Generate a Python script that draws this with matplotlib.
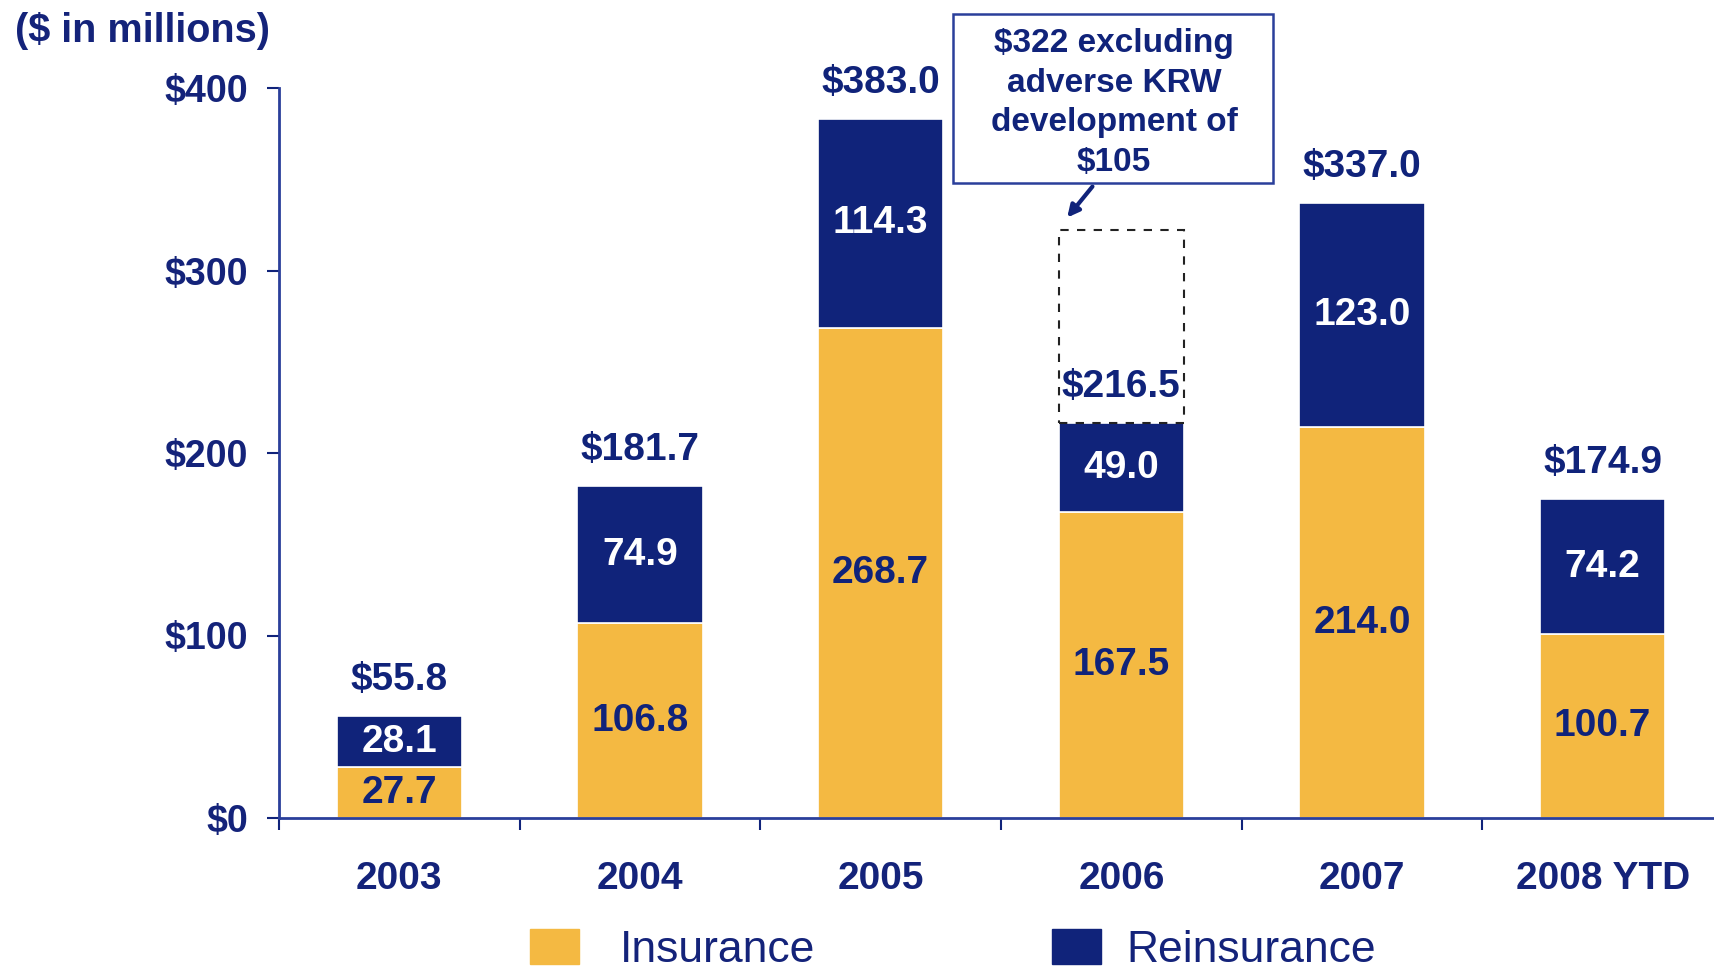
import matplotlib
matplotlib.use("Agg")
import matplotlib.pyplot as plt
from matplotlib.patches import Rectangle

categories = ["2003", "2004", "2005", "2006", "2007", "2008 YTD"]
insurance = [27.7, 106.8, 268.7, 167.5, 214.0, 100.7]
reinsurance = [28.1, 74.9, 114.3, 49.0, 123.0, 74.2]
totals = [55.8, 181.7, 383.0, 216.5, 337.0, 174.9]
y_ticks = [0, 100, 200, 300, 400]
y_tick_labels = ["$0", "$100", "$200", "$300", "$400"]
note_text = "$322 excluding\nadverse KRW\ndevelopment of\n$105"
note_value = 322.0
note_index = 3

NAVY = "#10237A"
GOLD = "#F4B942"
TEXT = "#14237A"

plt.rcParams['font.family'] = ['Liberation Sans', 'DejaVu Sans']

W, H = 1714, 969
fig = plt.figure(figsize=(W / 100, H / 100), dpi=100)
ax = fig.add_axes([279 / W, 1 - 818 / H, (1723 - 279) / W, (818 - 88) / H])

x = list(range(len(categories)))
bw = 0.52
ax.bar(x, insurance, width=bw, color=GOLD, edgecolor="white", linewidth=1.2, zorder=2)
ax.bar(x, reinsurance, width=bw, bottom=insurance, color=NAVY, edgecolor="white",
       linewidth=1.2, zorder=2)

for i in x:
    ax.text(i, insurance[i] / 2, f"{insurance[i]:.1f}", ha="center", va="center",
            color=NAVY, fontsize=28, fontweight="bold", zorder=3)
    ax.text(i, insurance[i] + reinsurance[i] / 2, f"{reinsurance[i]:.1f}", ha="center",
            va="center", color="white", fontsize=28, fontweight="bold", zorder=3)
    ax.annotate(f"${totals[i]:.1f}", (i, totals[i]), xytext=(0, 26),
                textcoords="offset points", ha="center", va="center",
                color=NAVY, fontsize=28, fontweight="bold", zorder=4)

# dashed box for 2006 excluding adverse development
ax.add_patch(Rectangle((note_index - bw / 2, totals[note_index]), bw,
                       note_value - totals[note_index], fill=False,
                       edgecolor="#222222", linestyle=(0, (4, 4)), linewidth=1.5,
                       zorder=3, clip_on=False))

# note box (drawn in pixel-based figure coordinates)
fig.patches.append(Rectangle((953 / W, 1 - 183 / H), (1273 - 953) / W, (183 - 14) / H,
                             facecolor="white", edgecolor="#2A3F9A", linewidth=1.8,
                             transform=fig.transFigure, figure=fig))
fig.text(1114 / W, 1 - 103 / H, note_text, ha="center", va="center", color=NAVY,
         fontsize=24, fontweight="bold", linespacing=1.36)

ax.annotate("", xy=(2.775, 329), xytext=(2.88, 346),
            arrowprops=dict(arrowstyle="-|>,head_length=0.7,head_width=0.35",
                            color=NAVY, linewidth=3, shrinkA=0, shrinkB=0),
            annotation_clip=False)

ax.set_xlim(-0.5, 5.5)
ax.set_ylim(0, 400)
ax.set_yticks(y_ticks)
ax.set_yticklabels(y_tick_labels)
ax.set_xticks(x)
ax.set_xticklabels(categories)
ax.set_xticks([i - 0.5 for i in range(len(categories) + 1)], minor=True)

ax.tick_params(axis="x", which="major", length=0, pad=31, labelsize=28,
               labelcolor=TEXT)
ax.tick_params(axis="x", which="minor", length=8.5, width=1.5, color=NAVY)
ax.tick_params(axis="y", length=8.5, width=1.5, color=NAVY, pad=14,
               labelsize=27, labelcolor=TEXT)
for lab in ax.get_xticklabels() + ax.get_yticklabels():
    lab.set_fontweight("bold")

for s in ["top", "right"]:
    ax.spines[s].set_visible(False)
for s in ["left", "bottom"]:
    ax.spines[s].set_color("#2A3F9A")
    ax.spines[s].set_linewidth(2)

fig.text(15 / W, 1 - 31 / H, "($ in millions)", ha="left", va="center",
         color=TEXT, fontsize=28.5, fontweight="bold")

# legend
fig.patches.append(Rectangle((530 / W, 1 - 964 / H), 49 / W, 35 / H, color=GOLD,
                             transform=fig.transFigure, figure=fig))
fig.patches.append(Rectangle((1052 / W, 1 - 964 / H), 49 / W, 35 / H, color=NAVY,
                             transform=fig.transFigure, figure=fig))
fig.text(620 / W, 1 - 951 / H, "Insurance", ha="left", va="center", color=TEXT,
         fontsize=32)
fig.text(1126 / W, 1 - 951 / H, "Reinsurance", ha="left", va="center", color=TEXT,
         fontsize=32)

fig.savefig("out.png", dpi=100)
